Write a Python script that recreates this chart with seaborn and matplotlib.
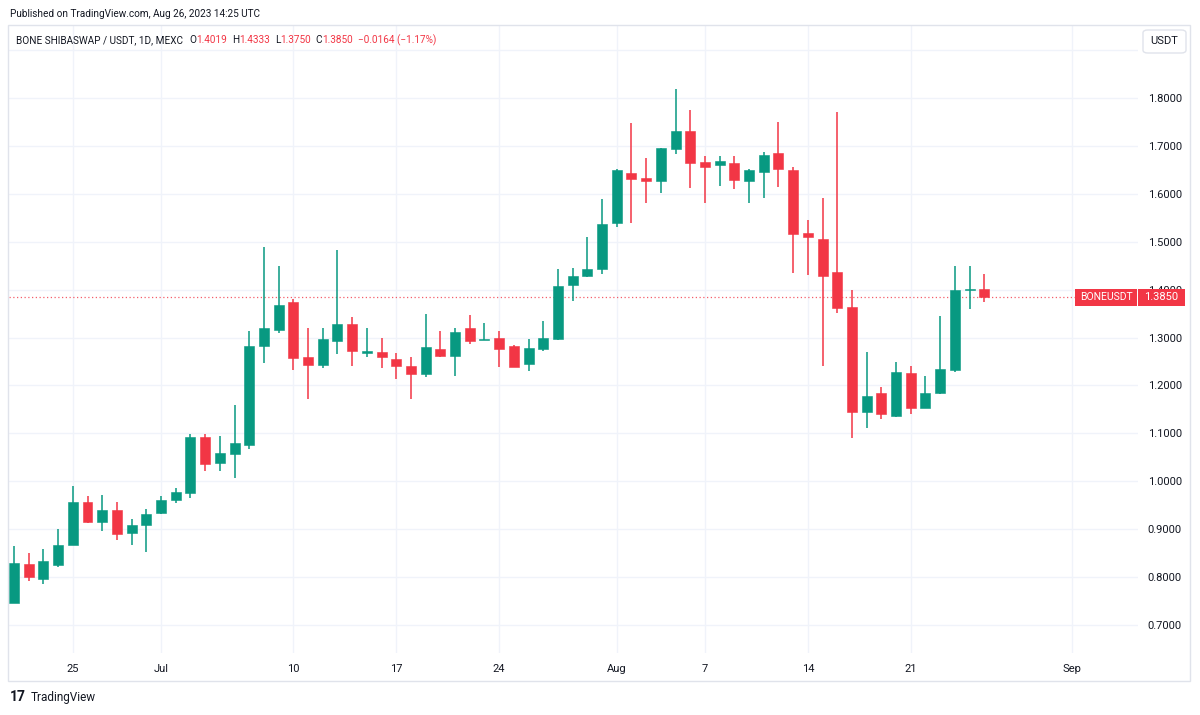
import matplotlib
matplotlib.use("Agg")
import matplotlib.pyplot as plt
import matplotlib.dates as mdates
from matplotlib.patches import Rectangle, FancyBboxPatch
import seaborn as sns
import pandas as pd

# daily candles, Jun 21 - Aug 26 2023
dates = pd.date_range("2023-06-21", "2023-08-26", freq="D")
opens = [0.747, 0.827, 0.797, 0.825, 0.867, 0.957, 0.915, 0.940, 0.892, 0.908,
         0.934, 0.960, 0.975, 1.093, 1.038, 1.058, 1.076, 1.282, 1.316, 1.374,
         1.259, 1.243, 1.293, 1.329, 1.268, 1.269, 1.255, 1.241, 1.224, 1.276,
         1.262, 1.319, 1.295, 1.299, 1.283, 1.244, 1.276, 1.298, 1.410, 1.428,
         1.443, 1.539, 1.644, 1.634, 1.627, 1.693, 1.732, 1.666, 1.660, 1.664,
         1.627, 1.645, 1.686, 1.650, 1.518, 1.505, 1.437, 1.363, 1.145, 1.184,
         1.136, 1.227, 1.154, 1.184, 1.232, 1.399, 1.4019]
highs = [0.865, 0.851, 0.859, 0.900, 0.990, 0.969, 0.971, 0.957, 0.921, 0.943,
         0.969, 0.985, 1.099, 1.099, 1.095, 1.159, 1.314, 1.490, 1.449, 1.380,
         1.321, 1.319, 1.483, 1.343, 1.319, 1.300, 1.267, 1.259, 1.349, 1.314,
         1.319, 1.348, 1.330, 1.313, 1.284, 1.297, 1.334, 1.443, 1.445, 1.509,
         1.589, 1.652, 1.747, 1.675, 1.696, 1.818, 1.774, 1.679, 1.679, 1.679,
         1.652, 1.688, 1.750, 1.655, 1.545, 1.591, 1.770, 1.399, 1.269, 1.197,
         1.250, 1.241, 1.220, 1.345, 1.450, 1.450, 1.4333]
lows = [0.745, 0.792, 0.785, 0.822, 0.866, 0.912, 0.896, 0.877, 0.868, 0.852,
        0.932, 0.955, 0.965, 1.022, 1.022, 1.006, 1.067, 1.246, 1.310, 1.232,
        1.172, 1.236, 1.266, 1.241, 1.259, 1.236, 1.213, 1.172, 1.218, 1.260,
        1.220, 1.286, 1.294, 1.239, 1.238, 1.231, 1.272, 1.295, 1.376, 1.427,
        1.433, 1.530, 1.540, 1.580, 1.601, 1.683, 1.612, 1.580, 1.616, 1.611,
        1.580, 1.591, 1.615, 1.434, 1.431, 1.241, 1.351, 1.090, 1.112, 1.129,
        1.135, 1.140, 1.153, 1.183, 1.229, 1.360, 1.375]
closes = [0.829, 0.800, 0.834, 0.867, 0.957, 0.915, 0.940, 0.890, 0.908, 0.931,
          0.961, 0.977, 1.093, 1.037, 1.060, 1.079, 1.283, 1.319, 1.367, 1.258,
          1.243, 1.296, 1.329, 1.272, 1.271, 1.259, 1.241, 1.224, 1.280, 1.262,
          1.311, 1.292, 1.298, 1.276, 1.239, 1.279, 1.299, 1.408, 1.429, 1.444,
          1.537, 1.650, 1.631, 1.627, 1.695, 1.732, 1.665, 1.657, 1.668, 1.629,
          1.650, 1.682, 1.651, 1.516, 1.509, 1.428, 1.362, 1.145, 1.177, 1.140,
          1.229, 1.154, 1.185, 1.234, 1.399, 1.401, 1.385]

last_price = 1.385
y_ticks = [0.7, 0.8, 0.9, 1.0, 1.1, 1.2, 1.3, 1.4, 1.5, 1.6, 1.7, 1.8, 1.9]
x_ticks = ["2023-06-25", "2023-07-01", "2023-07-10", "2023-07-17", "2023-07-24",
           "2023-08-01", "2023-08-07", "2023-08-14", "2023-08-21", "2023-09-01"]
x_labels = ["25", "Jul", "10", "17", "24", "Aug", "7", "14", "21", "Sep"]
legend_parts = [("BONE SHIBASWAP / USDT, 1D, MEXC", "dark", 6),
                ("O", "dark", 0), ("1.4019", "red", 5),
                ("H", "dark", 0), ("1.4333", "red", 5),
                ("L", "dark", 0), ("1.3750", "red", 5),
                ("C", "dark", 0), ("1.3850", "red", 5),
                ("\u22120.0164 (\u22121.17%)", "red", 0)]

GREEN = "#089981"
RED = "#F23645"
TEXT = "#131722"
GRID = "#f0f3fa"
FRAME = "#e0e3eb"

sns.set_style("white")
plt.rcParams["font.family"] = ["Roboto", "DejaVu Sans"]

W, H = 1200, 715
fig = plt.figure(figsize=(12, 7.15), dpi=100)


def fx(x):
    return x / W


def fy(y):
    return 1 - y / H


# plot area in pixels: x 9..1138, y 25..653
ax = fig.add_axes([fx(9), fy(653), fx(1138) - fx(9), fy(25) - fy(653)])

df = pd.DataFrame({"date": dates, "open": opens, "high": highs,
                   "low": lows, "close": closes})
df["x"] = mdates.date2num(df["date"])
df["up"] = df["close"] >= df["open"]
df["color"] = df["up"].map({True: GREEN, False: RED})
df["bottom"] = df[["open", "close"]].min(axis=1)
df["height"] = (df["open"] - df["close"]).abs().clip(lower=0.002)

ax.vlines(df["x"], df["low"], df["high"], colors=df["color"], linewidth=1.1, zorder=3)
ax.bar(df["x"], df["height"], bottom=df["bottom"], width=0.68,
       color=df["color"], edgecolor=df["color"], linewidth=0.4, zorder=4)

# last price line
ax.axhline(last_price, color=RED, linestyle=(0, (1, 2)), linewidth=0.9, alpha=0.8, zorder=2)

x0 = mdates.date2num(pd.Timestamp("2023-06-21"))
ax.set_xlim(x0 - 0.34, x0 + 76.46)
ax.set_ylim(0.6416, 1.9524)

ax.set_xticks(mdates.date2num(pd.to_datetime(x_ticks)))
ax.set_xticklabels(x_labels)
ax.set_yticks(y_ticks)
ax.set_yticklabels([f"{v:.4f}" if v < 1.85 else "" for v in y_ticks])
ax.yaxis.tick_right()
ax.tick_params(axis="x", length=0, pad=8, labelsize=8, colors=TEXT)
ax.tick_params(axis="y", length=0, pad=7, labelsize=8, colors=TEXT)
ax.grid(True, color=GRID, linewidth=1)
ax.set_axisbelow(True)
sns.despine(ax=ax, left=True, bottom=True, right=True, top=True)

# outer frame
fig.patches.append(Rectangle((fx(8), fy(681)), fx(1190) - fx(8), fy(25) - fy(681),
                             transform=fig.transFigure, fill=False,
                             edgecolor=FRAME, linewidth=1))

# header
fig.text(fx(10), fy(14), "Published on TradingView.com, Aug 26, 2023 14:25 UTC",
         fontsize=7.2, color=TEXT, va="center", ha="left")

renderer = fig.canvas.get_renderer()
xpos = 16
for txt, col, gap in legend_parts:
    t = fig.text(fx(xpos), fy(40), txt, fontsize=7.2, va="center", ha="left",
                 color=TEXT if col == "dark" else RED)
    xpos = t.get_window_extent(renderer).x1 + gap

# USDT button
fig.patches.append(FancyBboxPatch((fx(1143), fy(53)), fx(1186) - fx(1143), fy(30) - fy(53),
                                  boxstyle="round,pad=0,rounding_size=0.004",
                                  transform=fig.transFigure, facecolor="white",
                                  edgecolor=FRAME, linewidth=1, zorder=5))
fig.text(fx(1164.5), fy(41.5), "USDT", fontsize=8, color=TEXT, ha="center", va="center", zorder=6)

# last price label
fig.patches.append(Rectangle((fx(1075), fy(306)), fx(1137) - fx(1075), fy(289) - fy(306),
                             transform=fig.transFigure, facecolor=RED, edgecolor="none", zorder=5))
fig.patches.append(Rectangle((fx(1138), fy(306)), fx(1185) - fx(1138), fy(289) - fy(306),
                             transform=fig.transFigure, facecolor=RED, edgecolor="none", zorder=5))
fig.text(fx(1106), fy(297.5), "BONEUSDT", fontsize=7.5, color="white",
         ha="center", va="center", zorder=6)
fig.text(fx(1161.5), fy(297.5), "1.3850", fontsize=8, color="white",
         ha="center", va="center", zorder=6)

# footer logo
fig.text(fx(10), fy(697), "17", fontsize=10, fontweight="bold", color=TEXT, va="center")
fig.text(fx(31), fy(697), "TradingView", fontsize=8.5, color=TEXT, va="center")

fig.savefig("out.png", dpi=100, facecolor="white")
